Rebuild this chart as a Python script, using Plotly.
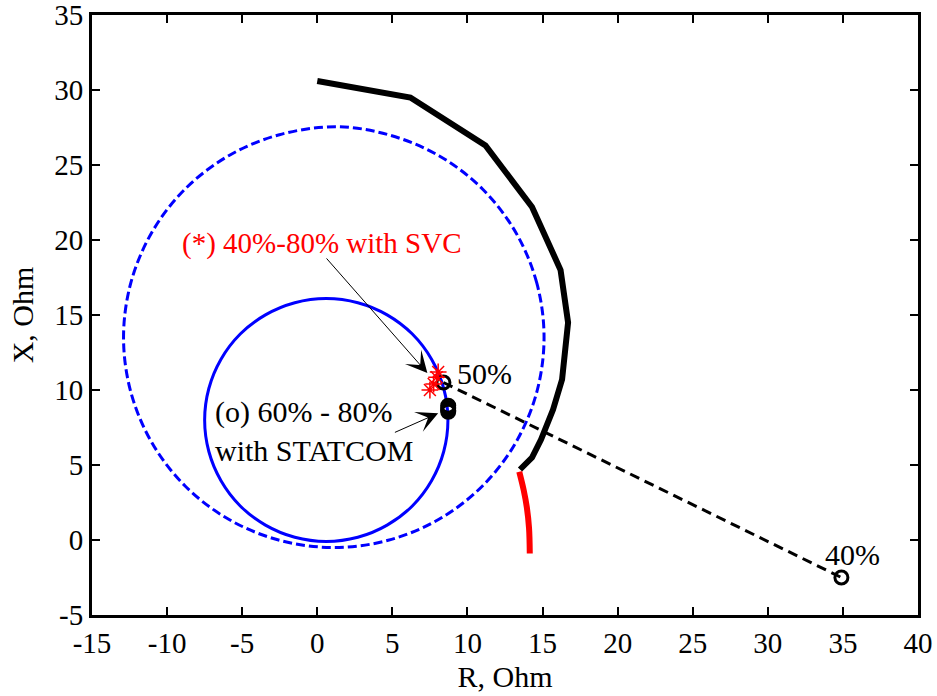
import plotly.graph_objects as go

# ---------------- data ----------------
# thick black impedance trajectory
black_r = [0.0, 6.2, 11.2, 14.3, 16.2, 16.7, 16.3, 15.7, 14.9, 14.3, 13.5]
black_x = [30.6, 29.5, 26.3, 22.2, 18.0, 14.5, 10.7, 8.7, 6.7, 5.5, 4.7]

# thick red continuation
red_r = [13.45, 13.75, 13.95, 14.1, 14.15]
red_x = [4.55, 3.3, 2.2, 0.8, -0.9]

# solid blue characteristic
blue_r = [8.7, 8.42, 7.61, 6.33, 4.65, 2.70, 0.6, -1.5, -3.45, -5.13, -6.41, -7.22,
          -7.5, -7.22, -6.41, -5.13, -3.45, -1.5, 0.6, 2.70, 4.65, 6.33, 7.61, 8.42, 8.7]
blue_x = [8.0, 10.1, 12.05, 13.73, 15.01, 15.82, 16.1, 15.82, 15.01, 13.73, 12.05, 10.1,
          8.0, 5.9, 3.95, 2.27, 0.99, 0.18, -0.1, 0.18, 0.99, 2.27, 3.95, 5.9, 8.0]

# dashed blue characteristic
dash_r = [15.1, 14.62, 13.22, 11.0, 8.1, 4.72, 1.3, -2.52, -5.9, -8.8, -11.02, -12.42,
          -12.9, -12.42, -11.02, -8.8, -5.9, -2.52, 1.1, 4.72, 8.1, 11.0, 13.22, 14.62, 15.1]
dash_x = [13.5, 17.12, 20.5, 23.4, 25.62, 27.02, 27.55, 27.02, 25.62, 23.4, 20.5, 17.12,
          13.5, 9.88, 6.5, 3.6, 1.38, -0.02, -0.5, -0.02, 1.38, 3.6, 6.5, 9.88, 13.5]

# dashed black line between the 50% and 40% operating points
pts_r = [8.4, 34.9]
pts_x = [10.5, -2.5]

# STATCOM operating points (60%-80%)
statcom_r = [8.72, 8.72, 8.72, 8.72]
statcom_x = [8.95, 8.8, 8.65, 8.55]

# SVC operating points (40%-80%)
svc_r = [8.05, 7.95, 7.75, 7.5]
svc_x = [11.2, 10.85, 10.4, 10.0]

xticks = [-15, -10, -5, 0, 5, 10, 15, 20, 25, 30, 35, 40]
yticks = [-5, 0, 5, 10, 15, 20, 25, 30, 35]

FONT = "Liberation Serif, Times New Roman, serif"

fig = go.Figure()
fig.add_trace(go.Scatter(x=dash_r, y=dash_x, mode="lines",
                         line=dict(color="#0000FF", width=3, dash="9px,4px", shape="spline"),
                         hoverinfo="skip"))
fig.add_trace(go.Scatter(x=blue_r, y=blue_x, mode="lines",
                         line=dict(color="#0000FF", width=3, shape="spline"), hoverinfo="skip"))
fig.add_trace(go.Scatter(x=black_r, y=black_x, mode="lines",
                         line=dict(color="black", width=6), hoverinfo="skip"))
fig.add_trace(go.Scatter(x=red_r, y=red_x, mode="lines",
                         line=dict(color="#FF0000", width=6, shape="spline"), hoverinfo="skip"))
fig.add_trace(go.Scatter(x=pts_r, y=pts_x, mode="lines+markers",
                         line=dict(color="black", width=3, dash="10px,6px"),
                         marker=dict(symbol="circle-open", size=13, color="black",
                                     line=dict(width=3, color="black")), hoverinfo="skip"))
fig.add_trace(go.Scatter(x=statcom_r, y=statcom_x, mode="markers",
                         marker=dict(symbol="circle-open", size=13, color="black",
                                     line=dict(width=3, color="black")), hoverinfo="skip"))
fig.add_trace(go.Scatter(x=svc_r, y=svc_x, mode="markers",
                         marker=dict(symbol="asterisk-open", size=14, color="#FF0000",
                                     line=dict(width=1.5, color="#FF0000")), hoverinfo="skip"))

annos = [
    dict(x=-9.13, y=19.8, text="(*) 40%-80% with SVC", xanchor="left", yanchor="middle",
         showarrow=False, font=dict(color="#FF0000", size=29, family=FONT)),
    dict(x=-6.95, y=7.25, text="(o) 60% - 80%<br>with STATCOM", xanchor="left", yanchor="middle",
         align="left", showarrow=False, font=dict(color="black", size=30, family=FONT)),
    dict(x=9.15, y=11.1, text="50%", xanchor="left", yanchor="middle",
         showarrow=False, font=dict(color="black", size=30, family=FONT)),
    dict(x=35.67, y=-0.95, text="40%", xanchor="center", yanchor="middle",
         showarrow=False, font=dict(color="black", size=30, family=FONT)),
    dict(x=7.33, y=11.13, ax=0.53, ay=18.87, axref="x", ayref="y", text="",
         showarrow=True, arrowhead=3, arrowsize=3.6, arrowwidth=1, arrowcolor="black"),
    dict(x=8.05, y=8.45, ax=5.07, ay=7.13, axref="x", ayref="y", text="",
         showarrow=True, arrowhead=3, arrowsize=3.6, arrowwidth=1, arrowcolor="black"),
]
fig.update_layout(annotations=annos)

axis_common = dict(showgrid=False, zeroline=False, showline=True, linecolor="black", linewidth=3,
                   mirror="allticks", ticks="inside", ticklen=8, tickwidth=2, tickcolor="black",
                   ticklabeloverflow="allow",
                   tickfont=dict(size=29, color="black", family=FONT))
fig.update_xaxes(range=[-15, 40], tickvals=xticks, ticktext=[str(v) for v in xticks],
                 title=dict(text="R, Ohm", font=dict(size=30, color="black", family=FONT), standoff=9),
                 **axis_common)
fig.update_yaxes(range=[-5, 35], tickvals=yticks, ticktext=[str(v) for v in yticks],
                 title=dict(text="X, Ohm", font=dict(size=30, color="black", family=FONT), standoff=12),
                 **axis_common)

fig.update_layout(width=937, height=696, showlegend=False,
                  margin=dict(l=92, r=19, t=15, b=81, autoexpand=False),
                  plot_bgcolor="white", paper_bgcolor="white",
                  font=dict(family=FONT, color="black"))

fig.write_html("out.html", config={"displayModeBar": False},
               post_script="document.body.style.margin='0px';")
